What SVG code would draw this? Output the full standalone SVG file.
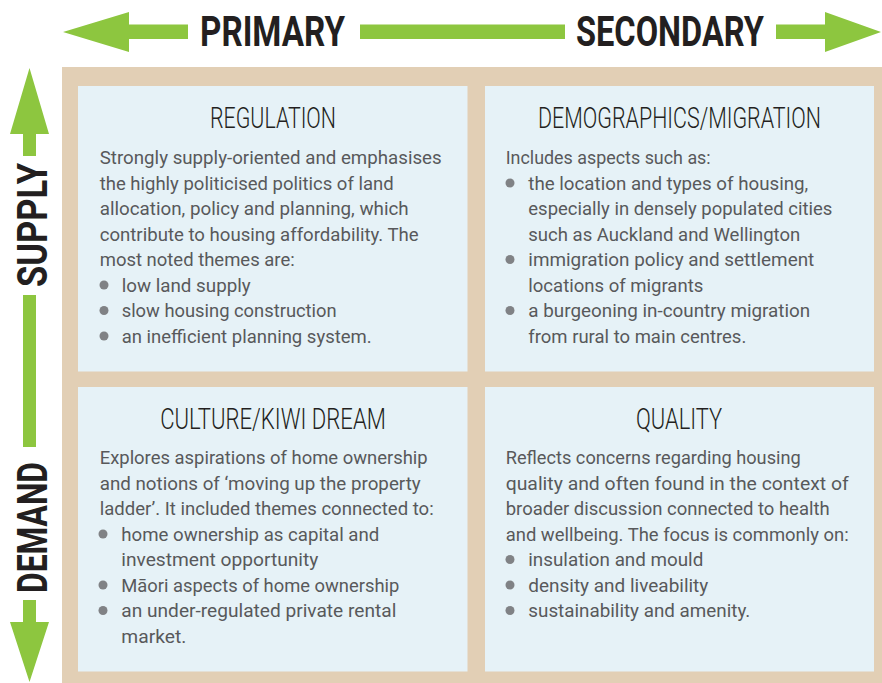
<svg xmlns="http://www.w3.org/2000/svg" width="882" height="683" viewBox="0 0 882 683">
<style>
.bg{fill:#ffffff}
.frame{fill:#e2cfb5}
.panel{fill:#e6f2f7}
.arrow{fill:#8dc63f}
.axis{font-family:Roboto,"Liberation Sans",sans-serif;font-weight:bold;font-size:43px;fill:#231f20}
.title{font-family:Roboto,"Liberation Sans",sans-serif;font-weight:300;font-size:30px;fill:#231f20;text-anchor:middle}
.body{font-family:Roboto,"Liberation Sans",sans-serif;font-size:19px;fill:#58595b}
.dot{fill:#808285}
</style>
<rect class="bg" x="0" y="0" width="882" height="683"/>
<rect class="frame" x="62" y="67" width="820" height="616"/>

<g id="connectors">
  <polygon class="arrow" points="63,32 129,12 129,24.5 188,24.5 188,39 129,39 129,52"/>
  <rect class="arrow" x="360" y="24.5" width="205" height="14.5"/>
  <polygon class="arrow" points="881,32 825,12 825,24.5 776,24.5 776,39 825,39 825,52"/>
  <polygon class="arrow" points="29.5,68 49,134 36,134 36,156 23,156 23,134 10,134"/>
  <rect class="arrow" x="23" y="295" width="13" height="152"/>
  <polygon class="arrow" points="29.5,682 49,622 36,622 36,600 23,600 23,622 10,622"/>
</g>

<g id="axis-labels">
  <text class="axis" x="200" y="45.5" textLength="145" lengthAdjust="spacingAndGlyphs">PRIMARY</text>
  <text class="axis" x="576" y="45.5" textLength="188" lengthAdjust="spacingAndGlyphs">SECONDARY</text>
  <text class="axis" transform="translate(46.5,225) rotate(-90)" text-anchor="middle" textLength="124" lengthAdjust="spacingAndGlyphs">SUPPLY</text>
  <text class="axis" transform="translate(46.5,527.5) rotate(-90)" text-anchor="middle" textLength="131" lengthAdjust="spacingAndGlyphs">DEMAND</text>
</g>

<g id="regulation">
  <rect class="panel" x="78" y="86" width="389.5" height="285.5"/>
  <text class="title" transform="translate(273,128.3) scale(0.75,1)" textLength="168" lengthAdjust="spacingAndGlyphs">REGULATION</text>
  <text class="body" x="99.7" y="164" textLength="342" lengthAdjust="spacingAndGlyphs">Strongly supply-oriented and emphasises</text>
  <text class="body" x="99.7" y="189.5" textLength="294" lengthAdjust="spacingAndGlyphs">the highly politicised politics of land</text>
  <text class="body" x="99.7" y="215" textLength="309" lengthAdjust="spacingAndGlyphs">allocation, policy and planning, which</text>
  <text class="body" x="99.7" y="240.5" textLength="319" lengthAdjust="spacingAndGlyphs">contribute to housing affordability. The</text>
  <text class="body" x="99.7" y="266" textLength="195" lengthAdjust="spacingAndGlyphs">most noted themes are:</text>
  <circle class="dot" cx="104" cy="285" r="4.5"/>
  <text class="body" x="121.7" y="291.5" textLength="129" lengthAdjust="spacingAndGlyphs">low land supply</text>
  <circle class="dot" cx="104" cy="310.5" r="4.5"/>
  <text class="body" x="121.7" y="317" textLength="215" lengthAdjust="spacingAndGlyphs">slow housing construction</text>
  <circle class="dot" cx="104" cy="336" r="4.5"/>
  <text class="body" x="121.7" y="342.5" textLength="250" lengthAdjust="spacingAndGlyphs">an inefficient planning system.</text>
</g>

<g id="demographics-migration">
  <rect class="panel" x="485" y="86" width="389" height="285.5"/>
  <text class="title" transform="translate(679.5,128.3) scale(0.72,1)" textLength="393" lengthAdjust="spacingAndGlyphs">DEMOGRAPHICS/MIGRATION</text>
  <text class="body" x="505.7" y="164" textLength="205" lengthAdjust="spacingAndGlyphs">Includes aspects such as:</text>
  <circle class="dot" cx="510" cy="183" r="4.5"/>
  <text class="body" x="528.3" y="189.5" textLength="280" lengthAdjust="spacingAndGlyphs">the location and types of housing,</text>
  <text class="body" x="528.3" y="215" textLength="304" lengthAdjust="spacingAndGlyphs">especially in densely populated cities</text>
  <text class="body" x="528.3" y="240.5" textLength="272" lengthAdjust="spacingAndGlyphs">such as Auckland and Wellington</text>
  <circle class="dot" cx="510" cy="259.5" r="4.5"/>
  <text class="body" x="528.3" y="266" textLength="286" lengthAdjust="spacingAndGlyphs">immigration policy and settlement</text>
  <text class="body" x="528.3" y="291.5" textLength="175" lengthAdjust="spacingAndGlyphs">locations of migrants</text>
  <circle class="dot" cx="510" cy="310.5" r="4.5"/>
  <text class="body" x="528.3" y="317" textLength="282" lengthAdjust="spacingAndGlyphs">a burgeoning in-country migration</text>
  <text class="body" x="528.3" y="342.5" textLength="218" lengthAdjust="spacingAndGlyphs">from rural to main centres.</text>
</g>

<g id="culture-kiwi-dream">
  <rect class="panel" x="78" y="387" width="389.5" height="284.5"/>
  <text class="title" transform="translate(273,429.3) scale(0.75,1)" textLength="301" lengthAdjust="spacingAndGlyphs">CULTURE/KIWI DREAM</text>
  <text class="body" x="99.7" y="464" textLength="328" lengthAdjust="spacingAndGlyphs">Explores aspirations of home ownership</text>
  <text class="body" x="99.7" y="489.5" textLength="321" lengthAdjust="spacingAndGlyphs">and notions of ‘moving up the property</text>
  <text class="body" x="99.7" y="515" textLength="334" lengthAdjust="spacingAndGlyphs">ladder’. It included themes connected to:</text>
  <circle class="dot" cx="103" cy="534" r="4.5"/>
  <text class="body" x="121.3" y="540.5" textLength="258" lengthAdjust="spacingAndGlyphs">home ownership as capital and</text>
  <text class="body" x="121.3" y="566" textLength="197" lengthAdjust="spacingAndGlyphs">investment opportunity</text>
  <circle class="dot" cx="103" cy="585" r="4.5"/>
  <text class="body" x="121.3" y="591.5" textLength="278" lengthAdjust="spacingAndGlyphs">Māori aspects of home ownership</text>
  <circle class="dot" cx="103" cy="610.5" r="4.5"/>
  <text class="body" x="121.3" y="617" textLength="275" lengthAdjust="spacingAndGlyphs">an under-regulated private rental</text>
  <text class="body" x="121.3" y="642.5" textLength="65" lengthAdjust="spacingAndGlyphs">market.</text>
</g>

<g id="quality">
  <rect class="panel" x="485" y="387" width="389" height="284.5"/>
  <text class="title" transform="translate(679,429.3) scale(0.75,1)" textLength="115" lengthAdjust="spacingAndGlyphs">QUALITY</text>
  <text class="body" x="505.7" y="464" textLength="295" lengthAdjust="spacingAndGlyphs">Reflects concerns regarding housing</text>
  <text class="body" x="505.7" y="489.5" textLength="343" lengthAdjust="spacingAndGlyphs">quality and often found in the context of</text>
  <text class="body" x="505.7" y="515" textLength="324" lengthAdjust="spacingAndGlyphs">broader discussion connected to health</text>
  <text class="body" x="505.7" y="540.5" textLength="343" lengthAdjust="spacingAndGlyphs">and wellbeing. The focus is commonly on:</text>
  <circle class="dot" cx="510" cy="559.5" r="4.5"/>
  <text class="body" x="528.3" y="566" textLength="175" lengthAdjust="spacingAndGlyphs">insulation and mould</text>
  <circle class="dot" cx="510" cy="585" r="4.5"/>
  <text class="body" x="528.3" y="591.5" textLength="180" lengthAdjust="spacingAndGlyphs">density and liveability</text>
  <circle class="dot" cx="510" cy="610.5" r="4.5"/>
  <text class="body" x="528.3" y="617" textLength="222" lengthAdjust="spacingAndGlyphs">sustainability and amenity.</text>
</g>
</svg>
